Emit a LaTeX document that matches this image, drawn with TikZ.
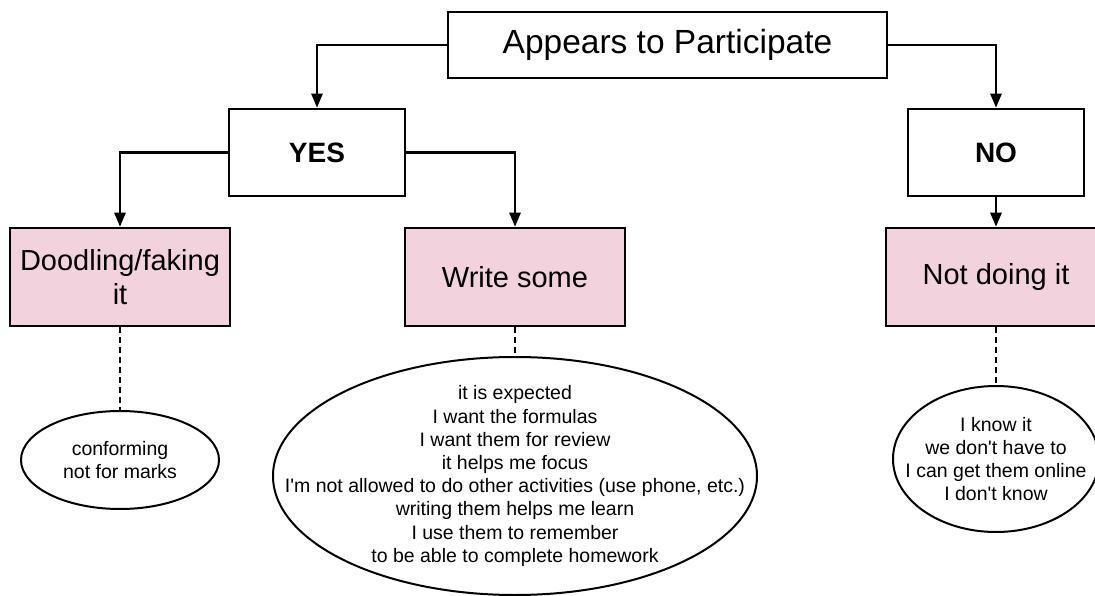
\documentclass[tikz,border=0pt]{standalone}
\usepackage{fontspec}
\setmainfont{Liberation Sans}
\usetikzlibrary{arrows.meta,shapes.geometric}
\definecolor{pinkfill}{RGB}{242,210,220}
\newcommand{\apos}{\textquotesingle}
\begin{document}
\begin{tikzpicture}[x=1pt,y=-1pt,
  box/.style={draw=black,line width=2.5pt,inner sep=0pt,align=center},
  plainbox/.style={box,fill=white},
  answer/.style={plainbox,minimum width=176pt,minimum height=87pt,font=\bfseries\fontsize{28}{34}\selectfont},
  pinkbox/.style={box,fill=pinkfill,minimum width=220pt,minimum height=98pt,font=\fontsize{29}{34}\selectfont},
  reason/.style={ellipse,draw=black,line width=2pt,inner sep=0pt},
  reasontext/.style={inner sep=0pt,align=center,font=\fontsize{19.5}{23.2}\selectfont},
  link/.style={line width=2.5pt,-{Triangle[length=14pt,width=11pt]}},
  tie/.style={line width=2.5pt,dash pattern=on 6pt off 4pt}]
\useasboundingbox (0,0) rectangle (1095,596);
\clip (0,0) rectangle (1095,596);

% question and answers
\node[plainbox,minimum width=439pt,minimum height=66pt,font=\fontsize{33.5}{40}\selectfont] (top) at (667.5,45) {Appears to Participate};
\node[answer] (yes) at (317,152.5) {YES};
\node[answer] (no) at (996,152.5) {NO};

% behaviours
\node[pinkbox] (doodle) at (120,277) {Doodling/faking\\it};
\node[pinkbox] (write) at (515,277) {Write some};
\node[pinkbox] (notdo) at (996,277) {Not doing it};

% reasons: outlines first, then their texts
\node[reason,minimum width=198pt,minimum height=98pt] (r1) at (120,460) {};
\node[reason,minimum width=484pt,minimum height=238pt] (r2) at (515,476) {};
\node[reason,minimum width=206pt,minimum height=146pt] (r3) at (996,459) {};
\node[reasontext] (t1) at (r1) {conforming\\not for marks};
\node[reasontext] (t2) at (r2) {it is expected\\I want the formulas\\I want them for review\\it helps me focus\\I\apos m not allowed to do other activities (use phone, etc.)\\writing them helps me learn\\I use them to remember\\to be able to complete homework};
\node[reasontext] (t3) at (r3) {I know it\\we don\apos t have to\\I can get them online\\I don\apos t know};

% connectors
\draw[link] (top.west) -| (yes.north);
\draw[link] (top.east) -| (no.north);
\draw[link] (yes.west) -| (doodle.north);
\draw[link] (yes.east) -| (write.north);
\draw[link] (no.south) -- (notdo.north);
\draw[tie] (doodle.south) -- (r1.north);
\draw[tie] (write.south) -- (r2.north);
\draw[tie] (notdo.south) -- (r3.north);
\end{tikzpicture}
\end{document}
